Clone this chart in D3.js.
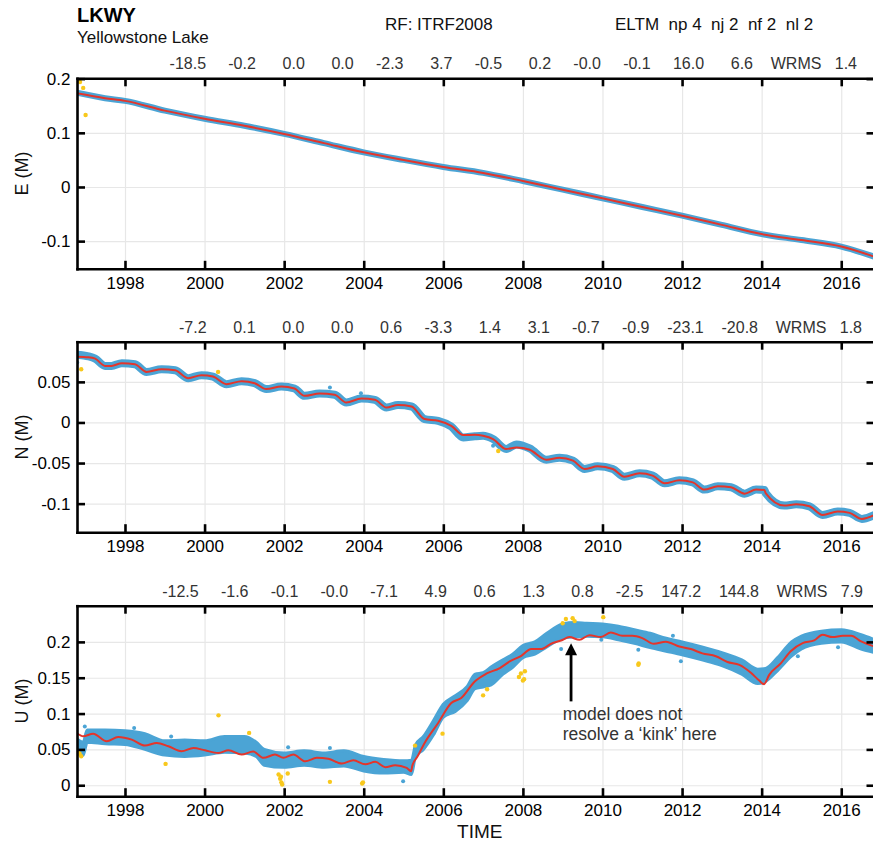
<!DOCTYPE html>
<html><head><meta charset="utf-8">
<script src="https://cdn.jsdelivr.net/npm/d3@7"></script>
<style>
body{margin:0;background:#fff}
text{font-family:"Liberation Sans",Arial,Helvetica,sans-serif}
</style></head><body>
<svg id="c" width="873" height="843"></svg>
<script>
// ---------------- DATA ----------------
const xTicks = [1998,2000,2002,2004,2006,2008,2010,2012,2014,2016];

// East
const eT     = [1996.79,1997.5,1998,1999,2000,2001,2002,2003,2004,2005,2006,2007,2008,2009,2010,2011,2012,2013,2014,2015,2016,2016.84];
const eModel = [0.173,0.164,0.159,0.141,0.126,0.113,0.098,0.081,0.064,0.050,0.037,0.026,0.011,-0.005,-0.021,-0.037,-0.053,-0.070,-0.087,-0.098,-0.110,-0.129];
const eData  = [0.174,0.164,0.159,0.141,0.126,0.113,0.098,0.081,0.064,0.050,0.037,0.026,0.011,-0.005,-0.021,-0.037,-0.053,-0.070,-0.087,-0.098,-0.110,-0.129];
const eOutT  = [1996.87,1996.95,1997.01];
const eOutV  = [0.194,0.183,0.133];
const eStats = ["-18.5","-0.2","0.0","0.0","-2.3","3.7","-0.5","0.2","-0.0","-0.1","16.0","6.6"];
const eWrms  = "1.4";

// North
const nT = [1996.79,1997.08,1997.25,1997.50,1997.66,1997.92,1998.25,1998.54,1998.92,1999.26,1999.59,1999.92,2000.21,2000.55,2000.93,2001.26,2001.55,2001.93,2002.26,2002.51,2002.89,2003.27,2003.56,2003.94,2004.28,2004.57,2004.86,2005.20,2005.53,2005.87,2006.20,2006.50,2006.79,2007.0,2007.25,2007.58,2007.84,2008.17,2008.59,2008.92,2009.26,2009.55,2009.88,2010.26,2010.55,2010.93,2011.26,2011.56,2011.93,2012.27,2012.56,2012.90,2013.23,2013.57,2013.86,2014.07,2014.10,2014.57,2014.87,2015.20,2015.53,2015.91,2016.21,2016.52,2016.84];
const nModel = [0.0811,0.0804,0.0787,0.0697,0.0697,0.073,0.0718,0.0623,0.0656,0.0644,0.0546,0.0583,0.0566,0.0472,0.0509,0.0484,0.0411,0.0443,0.0418,0.0328,0.0357,0.0341,0.0246,0.0295,0.0279,0.0184,0.0214,0.0197,0.0042,0.0021,-0.0041,-0.0155,-0.0151,-0.0164,-0.0204,-0.0327,-0.0307,-0.0336,-0.0459,-0.0434,-0.0471,-0.0573,-0.0541,-0.0573,-0.0668,-0.0627,-0.0655,-0.0750,-0.0713,-0.0738,-0.0827,-0.0787,-0.0799,-0.0877,-0.0827,-0.0831,-0.0870,-0.1024,-0.1008,-0.1033,-0.1139,-0.1098,-0.1114,-0.1188,-0.1139];
const nData  = [0.0835,0.0815,0.0787,0.0697,0.0697,0.073,0.0718,0.0623,0.0656,0.0644,0.0546,0.0583,0.0566,0.0472,0.0509,0.0484,0.0411,0.0443,0.0418,0.0328,0.0357,0.0341,0.0246,0.0295,0.0279,0.0184,0.0214,0.0197,0.0042,0.0021,-0.0050,-0.0185,-0.0170,-0.0164,-0.0204,-0.0327,-0.0270,-0.0320,-0.0459,-0.0434,-0.0471,-0.0573,-0.0541,-0.0573,-0.0668,-0.0627,-0.0655,-0.0750,-0.0713,-0.0738,-0.0827,-0.0787,-0.0799,-0.0877,-0.0827,-0.0831,-0.0870,-0.1024,-0.1008,-0.1033,-0.1139,-0.1098,-0.1114,-0.1188,-0.1139];
const nOutT  = [1996.9,2000.34,2007.38];
const nOutV  = [0.0656,0.0623,-0.0352];
const nStrayT = [1996.8,2003.15,2003.93,2007.25];
const nStrayV = [0.074,0.043,0.036,-0.0287];
const nStats = ["-7.2","0.1","0.0","0.0","0.6","-3.3","1.4","3.1","-0.7","-0.9","-23.1","-20.8"];
const nWrms  = "1.8";

// Up
const uT = [1996.79,1996.95,1997.20,1997.54,1997.83,1998.17,1998.50,1998.80,1999.09,1999.42,1999.72,2000.01,2000.35,2000.60,2000.93,2001.22,2001.48,2001.77,2001.98,2002.23,2002.53,2002.82,2003.11,2003.45,2003.74,2004.04,2004.29,2004.54,2004.79,2005.08,2005.19,2005.22,2005.35,2005.53,2005.87,2006.20,2006.45,2006.79,2007.08,2007.42,2007.67,2007.96,2008.21,2008.46,2008.71,2008.96,2009.17,2009.42,2009.67,2009.96,2010.21,2010.50,2010.75,2011.00,2011.29,2011.59,2011.93,2012.22,2012.51,2012.85,2013.14,2013.44,2013.73,2013.94,2014.06,2014.19,2014.48,2014.73,2015.03,2015.32,2015.53,2015.78,2016.04,2016.25,2016.50,2016.84];
const uModel = [0.073,0.0683,0.072,0.0613,0.0674,0.0636,0.0553,0.059,0.0543,0.0474,0.052,0.0487,0.0451,0.0487,0.0428,0.0469,0.0382,0.0428,0.0382,0.0428,0.0334,0.0382,0.0368,0.0302,0.0348,0.0292,0.0326,0.0251,0.0279,0.0242,0.0195,0.027,0.040,0.059,0.0869,0.1148,0.1217,0.1448,0.1556,0.1635,0.1727,0.1806,0.19,0.19,0.1974,0.202,0.2067,0.2029,0.2094,0.2067,0.2131,0.2085,0.2085,0.2053,0.1974,0.2002,0.1936,0.190,0.184,0.180,0.172,0.168,0.157,0.146,0.141,0.154,0.170,0.187,0.1983,0.202,0.2099,0.2067,0.2085,0.2085,0.2006,0.1936];
const uBandT = [1996.79,1996.95,1997.05,1997.5,1998.0,1998.5,1999.0,1999.5,2000.0,2000.5,2001.0,2001.3,2001.5,2002.0,2002.5,2003.0,2003.5,2004.0,2004.5,2005.0,2005.2,2005.3,2005.5,2005.75,2006.0,2006.3,2006.6,2006.8,2007.0,2007.2,2007.5,2007.75,2008.0,2008.3,2008.6,2009.0,2009.3,2009.6,2010.0,2010.4,2010.8,2011.2,2011.6,2012.0,2012.5,2013.0,2013.5,2013.9,2014.1,2014.4,2014.75,2015.0,2015.5,2016.0,2016.5,2016.84];
const uBandLo = [0.045,0.042,0.06,0.058,0.057,0.05,0.042,0.04,0.042,0.046,0.045,0.04,0.028,0.025,0.028,0.025,0.027,0.02,0.017,0.018,0.015,0.04,0.05,0.07,0.095,0.103,0.118,0.135,0.137,0.14,0.155,0.165,0.178,0.183,0.193,0.205,0.207,0.208,0.207,0.203,0.198,0.192,0.187,0.182,0.175,0.167,0.155,0.142,0.145,0.16,0.18,0.19,0.198,0.2,0.19,0.185];
const uBandHi = [0.065,0.06,0.077,0.077,0.076,0.072,0.062,0.063,0.062,0.068,0.068,0.06,0.05,0.045,0.048,0.045,0.048,0.04,0.036,0.034,0.035,0.056,0.068,0.09,0.113,0.125,0.138,0.155,0.157,0.165,0.175,0.183,0.195,0.2,0.212,0.225,0.227,0.226,0.225,0.222,0.217,0.212,0.205,0.2,0.193,0.185,0.175,0.162,0.163,0.178,0.2,0.208,0.215,0.217,0.21,0.203];
const uStrayT = [1996.99,1998.23,1999.16,2002.1,2003.15,2004.99,2008.96,2009.97,2010.9,2011.77,2011.97,2014.91,2015.92];
const uStrayV = [0.082,0.080,0.068,0.053,0.052,0.0056,0.190,0.203,0.189,0.2085,0.173,0.180,0.1927];
const uOutT = [1996.82,1996.86,1996.9,1999.02,2000.35,2001.12,2001.86,2001.9,2001.93,2001.95,2001.92,2002.09,2003.15,2003.96,2003.98,2005.29,2005.98,2007.0,2007.1,2007.9,2007.95,2008.0,2008.03,2008.05,2009.0,2009.08,2009.25,2009.3,2010.02,2010.9,2010.91];
const uOutV = [0.0474,0.0441,0.0404,0.0298,0.0975,0.073,0.015,0.009,0.004,0.001,0.012,0.0163,0.0047,0.0024,0.004,0.0553,0.072,0.1254,0.134,0.151,0.156,0.146,0.148,0.159,0.226,0.232,0.233,0.229,0.2345,0.168,0.17];
const uStats = ["-12.5","-1.6","-0.1","-0.0","-7.1","4.9","0.6","1.3","0.8","-2.5","147.2","144.8"];
const uWrms  = "7.9";

// ---------------- LAYOUT ----------------
const FONT = '"Liberation Sans",Arial,Helvetica,sans-serif';
const BLUE = "#4ba4d5", RED = "#e4352b", YEL = "#f8c81c";
const L = 77, R = 874.5, H = 190.5;
const svg = d3.select("#c");
const x = d3.scaleLinear().domain([1996.794, 2016.836]).range([L, R]);
const fmtY = v => String(+v.toFixed(2));

const panels = [
  {id:"E", label:"E (M)", top:78.3, dom:[-0.1511,0.2007], yt:[-0.1,0,0.1,0.2],
   stats:eStats, wrms:eWrms, statsRight:857,
   line:{t:eT, v:eData, w:6}, model:{t:eT, v:eModel}, out:{t:eOutT, v:eOutV}},
  {id:"N", label:"N (M)", top:341.7, dom:[-0.1352,0.0995], yt:[-0.1,-0.05,0,0.05],
   stats:nStats, wrms:nWrms, statsRight:862,
   line:{t:nT, v:nData, w:8}, model:{t:nT, v:nModel}, out:{t:nOutT, v:nOutV},
   stray:{t:nStrayT, v:nStrayV}},
  {id:"U", label:"U (M)", top:605.7, dom:[-0.0153,0.2505], yt:[0,0.05,0.1,0.15,0.2],
   stats:uStats, wrms:uWrms, statsRight:863,
   band:{t:uBandT, lo:uBandLo, hi:uBandHi}, model:{t:uT, v:uModel}, out:{t:uOutT, v:uOutV},
   stray:{t:uStrayT, v:uStrayV}}
];

function styleAxis(s){
  s.select(".domain").attr("stroke","#000").attr("stroke-width",2.6).attr("stroke-linecap","square");
  s.selectAll(".tick line").attr("stroke","#000").attr("stroke-width",2.6);
  s.selectAll(".tick text").attr("font-size",17).attr("font-family",FONT).attr("fill","#000");
}

panels.forEach((p,pi) => {
  const bottom = p.top + H;
  const y = d3.scaleLinear().domain(p.dom).range([bottom, p.top]);
  const g = svg.append("g");

  // grid
  g.append("g").attr("transform",`translate(0,${bottom})`)
    .call(d3.axisBottom(x).tickValues(xTicks).tickSize(-H).tickFormat(""))
    .call(s=>{s.select(".domain").remove(); s.selectAll("line").attr("stroke","#e7e7e7").attr("stroke-width",1.2);});
  g.append("g").attr("transform",`translate(${L},0)`)
    .call(d3.axisLeft(y).tickValues(p.yt).tickSize(-(R-L)).tickFormat(""))
    .call(s=>{s.select(".domain").remove(); s.selectAll("line").attr("stroke","#e7e7e7").attr("stroke-width",1.2);});

  // clip
  const cid = "clip"+p.id;
  svg.append("clipPath").attr("id",cid).append("rect")
    .attr("x",L).attr("y",p.top).attr("width",R-L).attr("height",H);
  const d = g.append("g").attr("clip-path",`url(#${cid})`);

  // observations (blue)
  if (p.band){
    const bd = p.band.t.map((t,i)=>({t, lo:p.band.lo[i], hi:p.band.hi[i]}));
    d.append("path").datum(bd)
      .attr("d", d3.area().x(q=>x(q.t)).y0(q=>y(q.lo)).y1(q=>y(q.hi)).curve(d3.curveMonotoneX))
      .attr("fill",BLUE).attr("stroke",BLUE).attr("stroke-width",3).attr("stroke-linejoin","round");
  }
  if (p.line){
    const ld = p.line.t.map((t,i)=>({t, v:p.line.v[i]}));
    d.append("path").datum(ld)
      .attr("d", d3.line().x(q=>x(q.t)).y(q=>y(q.v)).curve(d3.curveMonotoneX))
      .attr("fill","none").attr("stroke",BLUE).attr("stroke-width",p.line.w)
      .attr("stroke-linecap","round").attr("stroke-linejoin","round");
  }
  if (p.stray){
    d.selectAll("circle.stray").data(p.stray.t.map((t,i)=>({t,v:p.stray.v[i]})))
      .join("circle").attr("class","stray")
      .attr("cx",q=>x(q.t)).attr("cy",q=>y(q.v)).attr("r",2).attr("fill",BLUE);
  }
  // outliers (yellow)
  d.selectAll("circle.out").data(p.out.t.map((t,i)=>({t,v:p.out.v[i]})))
    .join("circle").attr("class","out")
    .attr("cx",q=>x(q.t)).attr("cy",q=>y(q.v)).attr("r",2.2).attr("fill",YEL);
  // model (red)
  const md = p.model.t.map((t,i)=>({t, v:p.model.v[i]}));
  d.append("path").datum(md)
    .attr("d", d3.line().x(q=>x(q.t)).y(q=>y(q.v)).curve(d3.curveMonotoneX))
    .attr("fill","none").attr("stroke",RED).attr("stroke-width",2).attr("stroke-linejoin","round");

  // axes
  g.append("g").attr("transform",`translate(0,${bottom})`)
    .call(d3.axisBottom(x).tickValues(xTicks).tickSize(-8).tickSizeOuter(0).tickPadding(8).tickFormat(d3.format("d")))
    .call(styleAxis);
  g.append("g").attr("transform",`translate(0,${p.top})`)
    .call(d3.axisTop(x).tickValues(xTicks).tickSize(-8).tickSizeOuter(0).tickFormat(""))
    .call(styleAxis);
  g.append("g").attr("transform",`translate(${L},0)`)
    .call(d3.axisLeft(y).tickValues(p.yt).tickSize(-8).tickSizeOuter(0).tickPadding(6.5).tickFormat(fmtY))
    .call(styleAxis);
  g.append("g").attr("transform",`translate(${R},0)`)
    .call(d3.axisRight(y).tickValues(p.yt).tickSize(-8).tickSizeOuter(0).tickFormat(""))
    .call(styleAxis);

  // y label
  svg.append("text").attr("transform",`translate(28,${p.top+H/2}) rotate(-90)`)
    .attr("text-anchor","middle").attr("font-size",18).attr("fill","#111").text(p.label);

  // stats line
  const s = p.stats.map(v=>v.padStart(9)).join("") + "    WRMS" + p.wrms.padStart(6);
  svg.append("text").attr("x",p.statsRight).attr("y",p.top-9)
    .attr("text-anchor","end").attr("font-size",16).attr("fill","#333")
    .attr("xml:space","preserve").style("white-space","pre").text(s);

  // annotation on U panel
  if (p.id === "U"){
    const ax = x(2009.21), tip = y(0.198), tail = y(0.117);
    g.append("line").attr("x1",ax).attr("x2",ax).attr("y1",tip+10).attr("y2",tail)
      .attr("stroke","#000").attr("stroke-width",2.8);
    g.append("path").attr("d",`M${ax},${tip}L${ax-6},${tip+12}L${ax+6},${tip+12}Z`).attr("fill","#000");
    const tx = x(2009.0);
    g.append("text").attr("x",tx).attr("y",tail+18.5).attr("font-size",17.5).attr("fill","#333").text("model does not");
    g.append("text").attr("x",tx).attr("y",tail+38.5).attr("font-size",17.5).attr("fill","#333").text("resolve a \u2018kink\u2019 here");
    svg.append("text").attr("x",(L+R)/2+4).attr("y",bottom+41.5).attr("text-anchor","middle")
      .attr("font-size",19).attr("fill","#111").text("TIME");
  }
});

// titles
svg.append("text").attr("x",L).attr("y",22).attr("font-size",20).attr("font-weight","bold").attr("fill","#000").text("LKWY");
svg.append("text").attr("x",L).attr("y",43).attr("font-size",17).attr("fill","#111").text("Yellowstone Lake");
svg.append("text").attr("x",385).attr("y",30).attr("font-size",17).attr("fill","#111").text("RF: ITRF2008");
svg.append("text").attr("x",615).attr("y",30).attr("font-size",17).attr("fill","#111")
  .attr("xml:space","preserve").style("white-space","pre").text("ELTM  np 4  nj 2  nf 2  nl 2");
</script>
</body></html>
